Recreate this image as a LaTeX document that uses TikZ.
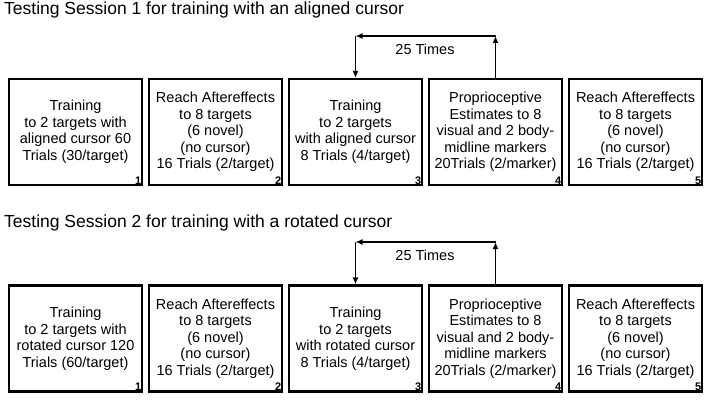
\documentclass[tikz,border=0pt]{standalone}
\usepackage{fontspec}
\setmainfont{Liberation Sans}
\usetikzlibrary{arrows.meta}
\begin{document}
\begin{tikzpicture}[x=1pt,y=-1pt,
  stagebox/.style={draw, line width=2.2pt, minimum width=133pt, minimum height=106pt,
    align=center, inner sep=2pt, font=\fontsize{14.5}{16.5}\selectfont},
  stagenum/.style={anchor=south east, inner sep=1.6pt, font=\fontsize{11}{12}\selectfont\bfseries},
  title/.style={anchor=base west, inner sep=0pt, font=\fontsize{17.5}{20}\selectfont},
  loop/.style={line width=1.3pt, -{Latex[length=7pt,width=6pt]}},
  looplabel/.style={inner sep=0pt, font=\fontsize{14.5}{16.5}\selectfont}]
\useasboundingbox (0,0) rectangle (711,401);

% ---------- Session 1: aligned cursor ----------
\node[title] (t1) at (4,15) {Testing Session 1 for training with an aligned cursor};

\node[stagebox] (a1) at (75.5,132) {Training\\to 2 targets with\\aligned cursor 60\\Trials (30/target)};
\node[stagebox] (a2) at (215.5,132) {Reach Aftereffects\\to 8 targets\\(6 novel)\\(no cursor)\\16 Trials (2/target)};
\node[stagebox] (a3) at (355.5,132) {Training\\to 2 targets\\with aligned cursor\\8 Trials (4/target)};
\node[stagebox] (a4) at (495.5,132) {Proprioceptive\\Estimates to 8\\visual and 2 body-\\midline markers\\20Trials (2/marker)};
\node[stagebox] (a5) at (635.5,132) {Reach Aftereffects\\to 8 targets\\(6 novel)\\(no cursor)\\16 Trials (2/target)};

\foreach \b/\n in {a1/1,a2/2,a3/3,a4/4,a5/5}
  \node[stagenum] (\b num) at (\b.south east) {\n};

\coordinate (a4top) at (a4.north |- 0,36);
\coordinate (a3top) at (a3.north |- 0,36);
\draw[loop] (a4.north) -- (a4top);
\draw[loop] (a4top) -- (a3top);
\draw[loop] (a3top) -- (a3.north);
\node[looplabel] (r1) at (425,49) {25 Times};

% ---------- Session 2: rotated cursor ----------
\node[title] (t2) at (4,227) {Testing Session 2 for training with a rotated cursor};

\node[stagebox] (b1) at (75.5,338.5) {Training\\to 2 targets with\\rotated cursor 120\\Trials (60/target)};
\node[stagebox] (b2) at (215.5,338.5) {Reach Aftereffects\\to 8 targets\\(6 novel)\\(no cursor)\\16 Trials (2/target)};
\node[stagebox] (b3) at (355.5,338.5) {Training\\to 2 targets\\with rotated cursor\\8 Trials (4/target)};
\node[stagebox] (b4) at (495.5,338.5) {Proprioceptive\\Estimates to 8\\visual and 2 body-\\midline markers\\20Trials (2/marker)};
\node[stagebox] (b5) at (635.5,338.5) {Reach Aftereffects\\to 8 targets\\(6 novel)\\(no cursor)\\16 Trials (2/target)};

\foreach \b/\n in {b1/1,b2/2,b3/3,b4/4,b5/5}
  \node[stagenum] (\b num) at (\b.south east) {\n};

\coordinate (b4top) at (b4.north |- 0,242);
\coordinate (b3top) at (b3.north |- 0,242);
\draw[loop] (b4.north) -- (b4top);
\draw[loop] (b4top) -- (b3top);
\draw[loop] (b3top) -- (b3.north);
\node[looplabel] (r2) at (425,255) {25 Times};
\end{tikzpicture}
\end{document}
